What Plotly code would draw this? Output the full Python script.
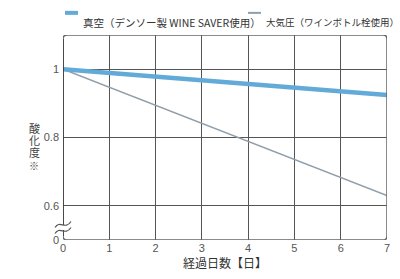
import plotly.graph_objects as go

days = [0, 7]
vacuum = [1.0, 0.924]
atmos = [1.0, 0.63]
vacuum_name = "真空（デンソー製 WINE SAVER使用）"
atmos_name = "大気圧（ワインボトル栓使用）"
x_ticks = [0, 1, 2, 3, 4, 5, 6, 7]
y_tickvals = [0.5, 0.6, 0.8, 1.0]
y_ticktext = ["0", "0.6", "0.8", "1"]
y_title_chars = ["酸", "化", "度", "※"]

BLUE = "#62aad8"
GRAY = "#8f9ea9"
JP = "Noto Sans CJK JP"

fig = go.Figure()
fig.add_trace(go.Scatter(x=days, y=atmos, mode="lines", name=atmos_name,
                         line=dict(color=GRAY, width=1.5), showlegend=False))
fig.add_trace(go.Scatter(x=days, y=vacuum, mode="lines", name=vacuum_name,
                         line=dict(color=BLUE, width=4.5), showlegend=False))

# rounded frame
rx, ry = 0.09, 0.012
x0, x1, y0, y1 = 0, 7, 0.5, 1.1
path = (f"M {x0},{y0+ry} L {x0},{y1-ry} Q {x0},{y1} {x0+rx},{y1} "
        f"L {x1-rx},{y1} Q {x1},{y1} {x1},{y1-ry} L {x1},{y0+ry} "
        f"Q {x1},{y0} {x1-rx},{y0} L {x0+rx},{y0} Q {x0},{y0} {x0},{y0+ry} Z")
fig.add_shape(type="path", path=path, xref="x", yref="y",
              line=dict(color="#666", width=1.5), layer="above")
fig.add_shape(type="line", x0=0, x1=0, y0=0.512, y1=1.088, xref="x", yref="y",
              line=dict(color="#333", width=1.5), layer="above")

# axis break mark, in paper units (not clipped by the plot area)
PX_X = 1 / 324
PX_Y = 1 / 205
BY = 12.5 * PX_Y  # ~12 px above the bottom of the plot area


def pt(dx, dy):
    return f"{dx*PX_X:.5f},{BY + dy*PX_Y:.5f}"


fig.add_shape(type="rect", xref="paper", yref="paper",
              x0=-3*PX_X, x1=3*PX_X, y0=BY-2.5*PX_Y, y1=BY+2.5*PX_Y,
              fillcolor="white", line=dict(width=0), layer="above")
for off in (-3, 3):
    wave = f"M {pt(-8, off-3)} C {pt(-3, off+5)} {pt(2, off-6)} {pt(8, off+3)}"
    fig.add_shape(type="path", xref="paper", yref="paper", path=wave,
                  line=dict(color="#555", width=1.2), layer="above")

# custom legend
ly = 1.108
fig.add_shape(type="line", xref="paper", yref="paper", x0=(65-63)/324, x1=(78-63)/324,
              y0=ly, y1=ly, line=dict(color=BLUE, width=4))
fig.add_annotation(xref="paper", yref="paper", x=(81-63)/324, y=ly, xanchor="left",
                   text=vacuum_name, showarrow=False,
                   font=dict(size=10.5, color="#333", family=JP))
fig.add_shape(type="line", xref="paper", yref="paper", x0=(248-63)/324, x1=(261-63)/324,
              y0=ly, y1=ly, line=dict(color=GRAY, width=2))
fig.add_annotation(xref="paper", yref="paper", x=(264-63)/324, y=ly, xanchor="left",
                   text=atmos_name, showarrow=False,
                   font=dict(size=9.5, color="#333", family=JP))

# y title stacked, one character per line
for ch, py in zip(y_title_chars, [128, 140, 152, 165]):
    fig.add_annotation(xref="paper", yref="paper", x=(27-63)/324, y=(240-py)/205,
                       text=ch, showarrow=False,
                       font=dict(size=11 if ch != "※" else 10, color="#444", family=JP))

fig.update_layout(
    width=400, height=279,
    margin=dict(l=63, r=13, t=35, b=39),
    paper_bgcolor="white", plot_bgcolor="white",
    xaxis=dict(range=[0, 7], tickvals=x_ticks, showgrid=True, gridcolor="#555",
               gridwidth=1, zeroline=False, showline=False, ticks="", automargin=False,
               tickfont=dict(size=11, color="#555", family="Liberation Sans"),
               title=dict(text="経過日数【日】", font=dict(size=12, color="#333", family=JP),
                          standoff=6)),
    yaxis=dict(range=[0.5, 1.1], tickvals=y_tickvals, ticktext=y_ticktext,
               showgrid=True, gridcolor="#555", gridwidth=1, zeroline=False,
               showline=False, ticks="", automargin=False, ticklabelstandoff=3,
               tickfont=dict(size=11, color="#555", family="Liberation Sans")),
)

fig.write_html("out.html", config={"displayModeBar": False},
               post_script="document.body.style.margin='0';")
